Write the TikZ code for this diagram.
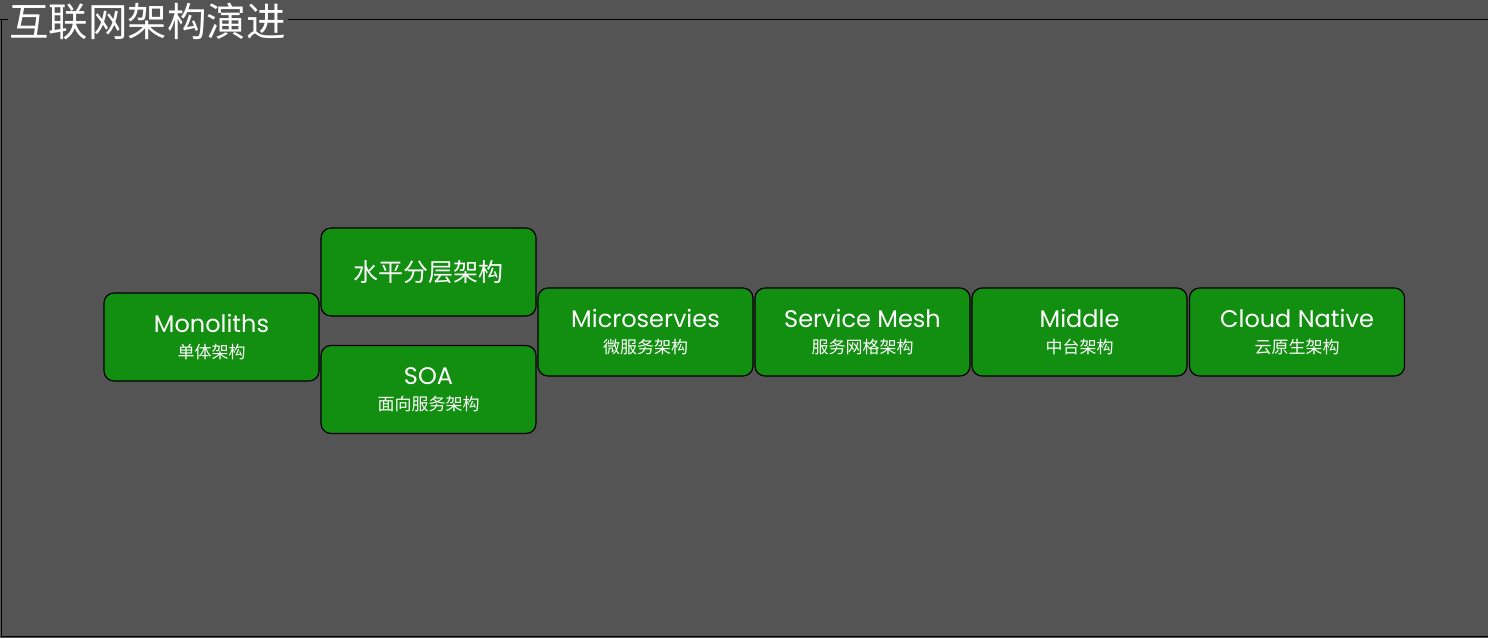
\documentclass[tikz,border=0pt]{standalone}
\usepackage{fontspec}
\setmainfont{Poppins}
\newfontfamily\cjk{Noto Sans CJK SC}
\newcommand{\entext}[1]{{\fontsize{24}{26}\selectfont #1}}
\newcommand{\zhtext}[1]{{\cjk\fontsize{17}{20}\selectfont #1}}
\definecolor{bg}{HTML}{545454}
\definecolor{boxgreen}{HTML}{128F10}
\begin{document}
\begin{tikzpicture}[x=1pt,y=-1pt,
  archbox/.style={draw=black,line width=1.2pt,fill=boxgreen,rounded corners=10pt,
    minimum width=215pt,minimum height=88pt,inner sep=0pt,text=white,align=center,
    font=\fontsize{24}{26}\selectfont}]
\fill[bg] (0,0) rectangle (1488,638);
\useasboundingbox (0,0) rectangle (1488,638);
\draw[black,line width=1pt] (0,19.5) -- (8,19.5);
\draw[black,line width=1pt] (288,19.5) -- (1488,19.5);
\draw[black,line width=1pt] (1,19.5) -- (1,636) -- (1488,636);
\node[text=white,anchor=west,font=\cjk\fontsize{39.5}{42}\selectfont,inner sep=0pt] (title) at (9,21.5) {互联网架构演进};
\node[archbox] (mono) at (211.5,337) {\entext{Monoliths}\\\zhtext{单体架构}};
\node[archbox] (layer) at (428.5,272) {{\cjk\fontsize{25}{28}\selectfont 水平分层架构}};
\node[archbox] (soa) at (428.5,389.5) {\entext{SOA}\\\zhtext{面向服务架构}};
\node[archbox] (micro) at (645.5,332) {\entext{Microservies}\\\zhtext{微服务架构}};
\node[archbox] (mesh) at (862.5,332) {\entext{Service Mesh}\\\zhtext{服务网格架构}};
\node[archbox] (middle) at (1079.5,332) {\entext{Middle}\\\zhtext{中台架构}};
\node[archbox] (cloud) at (1297,332) {\entext{Cloud Native}\\\zhtext{云原生架构}};
\end{tikzpicture}
\end{document}
